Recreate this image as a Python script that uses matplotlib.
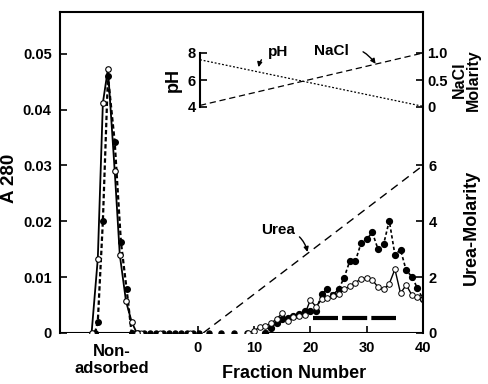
import matplotlib
matplotlib.use('Agg')
import matplotlib.pyplot as plt

plt.rcParams['font.family'] = ['Liberation Sans', 'DejaVu Sans']
plt.rcParams['font.weight'] = 'bold'

# non-adsorbed peak (fraction axis shifted left of 0)
peak_x_filled = [-18.2, -17.7, -16.8, -15.9, -14.7, -13.6, -12.6, -11.7]
peak_y_filled = [0.0, 0.002, 0.020, 0.046, 0.0342, 0.0163, 0.0079, 0.0]
peak_x_open = [-18.8, -17.7, -16.8, -15.9, -14.7, -13.8, -12.7, -11.7, -10.8]
peak_y_open = [0.0, 0.0133, 0.0412, 0.0473, 0.029, 0.014, 0.0057, 0.002, 0.0]

# baseline dots between the peak and the gradient
base_x = [-10.6, -9.5, -8.4, -7.3, -6.2, -5.1, -4.0, -3.0, -1.9, -0.9, 0.3, 2.0, 4.2, 6.5, 8.8]
base_open_x = [-10.0, -6.7, -1.4]

# gradient fractions
frac_filled = [12, 13, 14, 15, 16, 17, 18, 19, 20, 21, 22, 23, 24, 25, 26, 27, 28, 29, 30,
               31, 32, 33, 34, 35, 36, 37, 38, 39, 40]
a280_filled = [0.0, 0.0008, 0.0018, 0.0025, 0.0027, 0.003, 0.0034, 0.0039, 0.0039, 0.004,
               0.0069, 0.0079, 0.0068, 0.0078, 0.0099, 0.0129, 0.0129, 0.0161, 0.0168,
               0.018, 0.015, 0.0159, 0.0201, 0.014, 0.0149, 0.0112, 0.0101, 0.008, 0.006]
frac_open = [9, 10, 11, 12, 13, 14, 15, 16, 17, 18, 19, 20, 21, 22, 23, 24, 25, 26, 27, 28,
             29, 30, 31, 32, 33, 34, 35, 36, 37, 38, 39, 40]
a280_open = [0.0, 0.0004, 0.001, 0.0012, 0.0017, 0.0025, 0.0035, 0.0022, 0.0028, 0.003,
             0.0033, 0.0059, 0.0047, 0.006, 0.0062, 0.0066, 0.007, 0.0078, 0.0084, 0.009,
             0.0097, 0.0098, 0.0095, 0.0082, 0.0078, 0.0088, 0.0114, 0.0071, 0.0086,
             0.0068, 0.0065, 0.006]

# gradients
urea_x = [1, 40]
urea_y = [0, 6]
ph_x = [0, 40]
ph_y = [7.5, 4.05]
nacl_x = [0, 40]
nacl_y = [0.03, 1.0]

# pooled fractions bar
pool_x = [20.4, 35.2]
pool_y = [0.0027, 0.0027]

fig = plt.figure(figsize=(4.88, 3.84), dpi=100)
ax = fig.add_axes([0.123, 0.133, 0.744, 0.836])
xmin, xmax = -24.4, 40
ymax = 0.0575
ax.set_xlim(xmin, xmax)
ax.set_ylim(0, ymax)

ax.plot(peak_x_filled, peak_y_filled, color='black', ls=(0, (2, 1.2)), lw=1.6,
        marker='o', ms=4, mfc='black', mec='black', zorder=3)
ax.plot(peak_x_open, peak_y_open, color='black', ls='-', lw=1.3,
        marker='o', ms=4, mfc='white', mec='black', mew=0.8, zorder=4)
ax.plot(base_x, [0] * len(base_x), ls='none', marker='o', ms=3.6, color='black', zorder=3)
ax.plot(base_open_x, [0] * len(base_open_x), ls='none', marker='o', ms=3.6,
        mfc='white', mec='black', mew=0.7, zorder=3)
ax.plot(frac_filled, a280_filled, color='black', ls=(0, (2, 1.5)), lw=1.2,
        marker='o', ms=4.2, mfc='black', mec='black', zorder=3)
ax.plot(frac_open, a280_open, color='black', ls='-', lw=1.0,
        marker='o', ms=4, mfc='white', mec='black', mew=0.7, zorder=4)
ax.plot(pool_x, pool_y, color='black', lw=3, ls=(0, (6, 1)), solid_capstyle='butt')

# urea on the right axis (1 M urea = 0.005 A280)
axu = ax.twinx()
axu.set_ylim(0, ymax * 200)
axu.plot(urea_x, urea_y, color='black', ls=(0, (6, 4)), lw=1.0)
axu.set_yticks([0, 2, 4, 6])
axu.tick_params(axis='y', direction='in', length=5, width=1.2, labelsize=10.5, pad=4)
for s in ['left', 'top', 'bottom']:
    axu.spines[s].set_visible(False)
axu.spines['right'].set_linewidth(1.5)
axu.set_ylabel('Urea-Molarity', fontsize=13, fontweight='bold')
axu.yaxis.set_label_coords(1.11, 0.33)

# spines of main axes
ax.spines['bottom'].set_visible(False)
ax.spines['right'].set_visible(False)
ax.spines['left'].set_linewidth(1.5)
ax.spines['top'].set_linewidth(1.5)
ax.hlines(0, xmin, -11.2, color='black', lw=1.5, zorder=2)
ax.hlines(0, 12, xmax, color='black', lw=1.5, zorder=2)

ax.set_yticks([0, 0.01, 0.02, 0.03, 0.04, 0.05])
ax.set_yticklabels(['0', '0.01', '0.02', '0.03', '0.04', '0.05'])
ax.set_xticks([0, 10, 20, 30, 40])
ax.tick_params(axis='y', direction='in', length=5, width=1.2, labelsize=10.5, pad=6)
ax.tick_params(axis='x', direction='in', length=5, width=1.2, labelsize=10.5, pad=6)
ax.set_ylabel('A 280', fontsize=13.5, fontweight='bold')
ax.yaxis.set_label_coords(-0.115, 0.48)
ax.set_xlabel('Fraction Number', fontsize=13, fontweight='bold')
ax.xaxis.set_label_coords(0.645, -0.1)
ax.text(-15.2, -0.0049, 'Non-\nadsorbed', ha='center', va='center', fontsize=12,
        fontweight='bold', linespacing=1.15)

ax.annotate('Urea', xy=(19.5, 0.0145), xytext=(14.2, 0.0185), fontsize=11,
            fontweight='bold', ha='center', va='center',
            arrowprops=dict(arrowstyle='-|>', color='black', lw=1.0,
                            connectionstyle='arc3,rad=-0.4', shrinkA=2, shrinkB=0,
                            mutation_scale=7))

# inset: pH and NaCl
axp = fig.add_axes([200 / 488, 1 - 107 / 384, 223 / 488, 54 / 384])
axp.set_xlim(0, 40)
axp.set_ylim(4, 8)
axp.patch.set_visible(False)
axp.plot(ph_x, ph_y, color='black', ls=(0, (1.5, 1.5)), lw=0.9)
axp.set_xticks([])
axp.set_yticks([4, 6, 8])
axp.tick_params(axis='y', direction='in', length=5, width=1.2, labelsize=10.5, pad=3)
for s in ['right', 'top', 'bottom']:
    axp.spines[s].set_visible(False)
axp.spines['left'].set_linewidth(1.5)
axp.set_ylabel('pH', fontsize=13, fontweight='bold', labelpad=4)

axn = axp.twinx()
axn.set_ylim(0, 1)
axn.plot(nacl_x, nacl_y, color='black', ls=(0, (5, 3)), lw=0.9)
axn.set_yticks([0, 0.5, 1.0])
axn.set_yticklabels(['0', '0.5', '1.0'])
axn.tick_params(axis='y', direction='in', length=5, width=1.2, labelsize=10.5, pad=3)
for s in ['left', 'top', 'bottom', 'right']:
    axn.spines[s].set_visible(False)
axn.set_ylabel('NaCl\nMolarity', fontsize=11.5, fontweight='bold', linespacing=0.9)
axn.yaxis.set_label_coords(1.13, 0.5)

axp.annotate('pH', xy=(10.5, 6.95), xytext=(14, 8.1), fontsize=11, fontweight='bold',
             ha='center', va='center',
             arrowprops=dict(arrowstyle='-|>', color='black', lw=1.0,
                             connectionstyle='arc3,rad=0.4', shrinkA=4, shrinkB=0,
                             mutation_scale=7))
axn.annotate('NaCl', xy=(31.5, 0.8), xytext=(23.5, 1.03), fontsize=11, fontweight='bold',
             ha='center', va='center',
             arrowprops=dict(arrowstyle='-|>', color='black', lw=1.0,
                             connectionstyle='arc3,rad=-0.4', shrinkA=9, shrinkB=0,
                             mutation_scale=7))

fig.savefig('out.png', dpi=100)
